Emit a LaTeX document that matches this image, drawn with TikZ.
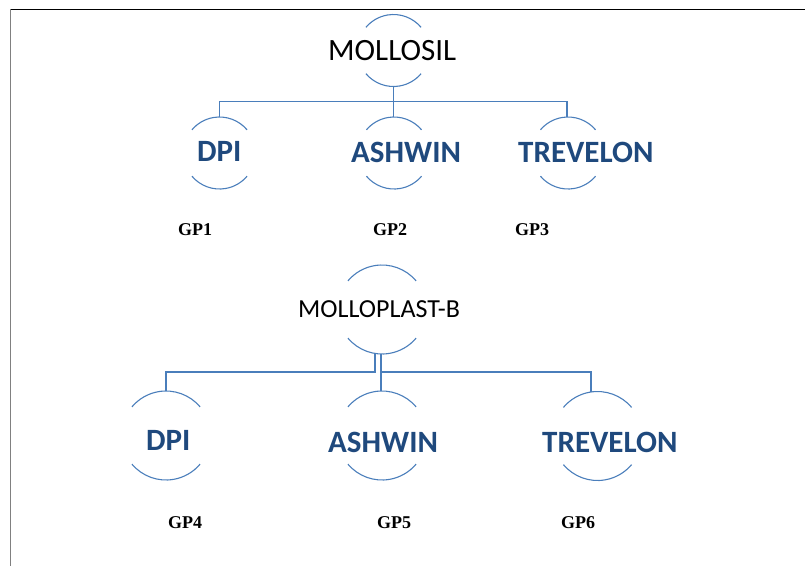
\documentclass[tikz,border=0pt]{standalone}
\usepackage{fontspec}
\setmainfont{Carlito}
\newfontfamily\gpfont{Liberation Serif}
\usetikzlibrary{calc}
\definecolor{arcblue}{HTML}{4A7EBB}
\definecolor{txtblue}{HTML}{1F497D}
\begin{document}
\begin{tikzpicture}[x=1pt,y=1pt,
  arcline/.style={draw=arcblue,line width=1.1pt},
  conn/.style={draw=arcblue,line width=1.2pt},
  toptxt/.style={anchor=base west,inner sep=0pt,text=black,font=\fontsize{31}{36}\selectfont},
  midtxt/.style={anchor=base west,inner sep=0pt,text=black,font=\fontsize{26}{30}\selectfont},
  subtxt/.style={anchor=base west,inner sep=0pt,text=txtblue,font=\bfseries\fontsize{31}{36}\selectfont},
  gptxt/.style={anchor=base west,inner sep=0pt,text=black,font=\gpfont\bfseries\fontsize{18}{21}\selectfont}]
\useasboundingbox (0,0) rectangle (805,-566);
% page border
\draw[black,line width=1.5pt] (10,-9.5) -- (805,-9.5);
\draw[gray,line width=1.5pt] (10.5,-9) -- (10.5,-566);

% circle centres
\coordinate (c0) at (393.5,-50.5);
\coordinate (c1) at (219.5,-153);
\coordinate (c2) at (394,-153);
\coordinate (c3) at (568,-153);
\coordinate (c4) at (382,-309.5);
\coordinate (c5) at (166,-435.5);
\coordinate (c6) at (382,-435.5);
\coordinate (c7) at (597.5,-436);

% arcs (small)
\foreach \c in {c0,c1,c2,c3}{
  \draw[arcline] ($(\c)+(40:36pt)$) arc[start angle=40,end angle=140,radius=36pt];
  \draw[arcline] ($(\c)+(220:36pt)$) arc[start angle=220,end angle=320,radius=36pt];
}
% arcs (large)
\foreach \c in {c4,c5,c6,c7}{
  \draw[arcline] ($(\c)+(40:44.5pt)$) arc[start angle=40,end angle=140,radius=44.5pt];
  \draw[arcline] ($(\c)+(220:44.5pt)$) arc[start angle=220,end angle=320,radius=44.5pt];
}

% texts
\node[toptxt] (mollosil) at (328,-60) {MOLLOSIL};
\node[subtxt] (dpi1) at (197,-161) {DPI};
\node[subtxt] (ashwin1) at (351,-162) {ASHWIN};
\node[subtxt] (trev1) at (518,-162) {TREVELON};
\node[gptxt] (gp1) at (178,-235) {GP1};
\node[gptxt] (gp2) at (373,-235) {GP2};
\node[gptxt] (gp3) at (515,-235) {GP3};

\node[midtxt] (molloplast) at (298,-317) {MOLLOPLAST-B};
\node[subtxt] (dpi2) at (146,-450) {DPI};
\node[subtxt] (ashwin2) at (328,-452) {ASHWIN};
\node[subtxt] (trev2) at (542,-452) {TREVELON};
\node[gptxt] (gp4) at (168,-528) {GP4};
\node[gptxt] (gp5) at (377,-528) {GP5};
\node[gptxt] (gp6) at (561,-528) {GP6};

% connector end points
\coordinate (c0b) at (393.5,-86.5);
\coordinate (c1t) at (219.5,-117);
\coordinate (c2t) at (393.5,-117);
\coordinate (c3t) at (567,-117);
\coordinate (c4bl) at (375,-354);
\coordinate (c4br) at (381,-354);
\coordinate (c5t) at (166,-391);
\coordinate (c6t) at (381,-391);
\coordinate (c7t) at (591,-392);

% connectors, first tree
\draw[conn] (c0b) -- (c2t);
\draw[conn] (c0b) -- ++(0,-15) -| (c1t);
\draw[conn] (c0b) -- ++(0,-15) -| (c3t);
% connectors, second tree
\draw[conn] (c4bl) -- ++(0,-18) -| (c5t);
\draw[conn] (c4br) -- (c6t);
\draw[conn] (c4br) -- ++(0,-18) -| (c7t);
\end{tikzpicture}
\end{document}
